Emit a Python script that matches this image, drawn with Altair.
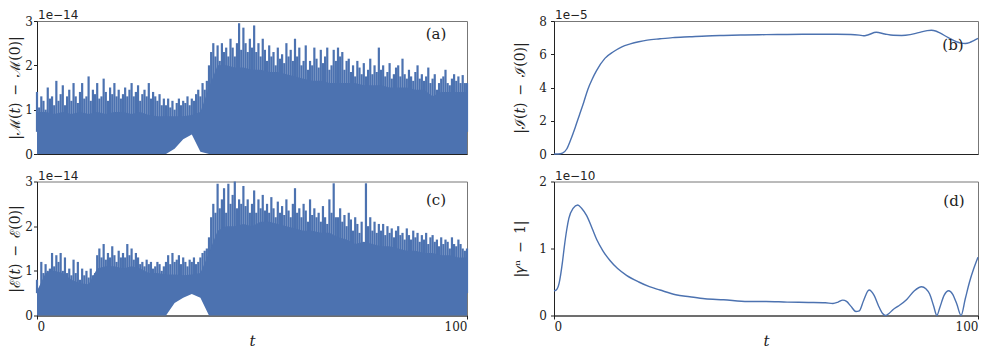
import altair as alt
import pandas as pd

COLOR = "#4c72b0"

# ---- panel (a): |M(t)-M(0)|, units of 1e-14 ----
T_BODY = list(range(0, 101, 2))
A_BODY = [0.95, 0.95, 0.9, 0.95, 0.9, 0.95, 0.9, 0.95, 0.9, 0.95,
          0.95, 0.9, 0.95, 0.88, 0.85, 0.85, 0.85, 0.85, 0.88, 0.95,
          1.5, 2.0, 2.0, 1.95, 1.95, 1.9, 1.9, 1.85, 1.85, 1.8,
          1.75, 1.7, 1.65, 1.65, 1.6, 1.6, 1.6, 1.6, 1.55, 1.55,
          1.55, 1.5, 1.5, 1.5, 1.45, 1.45, 1.3, 1.4, 1.4, 1.4, 1.4]
A_LO = [0, 0, 0, 0, 0, 0, 0, 0, 0, 0,
        0, 0, 0, 0, 0, 0, 0.12, 0.33, 0.44, 0.05,
        0, 0, 0, 0, 0, 0, 0, 0, 0, 0,
        0, 0, 0, 0, 0, 0, 0, 0, 0, 0,
        0, 0, 0, 0, 0, 0, 0, 0, 0, 0, 0]
T_HI = [i / 2 for i in range(201)]
A_HI = [1.4, 1.05, 1.3, 1.2, 1.0, 1.5, 1.25, 1.3, 1.1, 1.65, 1.2, 1.35, 1.55, 1.1, 1.3, 1.45, 1.2, 1.6, 1.3, 1.15,
        1.4, 1.6, 1.25, 1.3, 1.75, 1.2, 1.45, 1.35, 1.6, 1.25, 1.3, 1.7, 1.4, 1.2, 1.5, 1.35, 1.6, 1.3, 1.45, 1.25,
        1.35, 1.5, 1.3, 1.45, 1.6, 1.3, 1.4, 1.55, 1.2, 1.35, 1.45, 1.3, 1.6, 1.25, 1.4, 1.3, 1.2, 1.35, 1.1, 1.25,
        1.1, 1.25, 1.05, 1.2, 1.0, 1.15, 1.25, 1.1, 1.2, 1.15, 1.3, 1.1, 1.25, 1.2, 1.35, 1.45, 1.3, 1.6, 1.45, 1.65,
        2.0, 2.3, 2.5, 2.2, 2.45, 2.1, 2.5, 2.3, 2.4, 2.2, 2.6, 2.4, 2.2, 2.5, 2.95, 2.35, 2.85, 2.5, 2.3, 2.6,
        2.4, 2.9, 2.3, 2.5, 2.2, 2.6, 2.35, 2.1, 2.45, 2.2, 2.3, 2.0, 2.4, 2.15, 2.25, 2.05, 2.5, 2.2, 2.35, 2.1,
        2.6, 2.2, 2.4, 2.0, 2.1, 2.45, 1.9, 2.1, 2.0, 2.4, 2.15, 1.95, 2.35, 2.05, 2.2, 2.4, 1.9, 2.0, 2.35, 2.1,
        2.4, 2.2, 2.3, 1.9, 2.1, 2.15, 1.85, 2.0, 1.75, 2.1, 1.95, 1.8, 2.05, 1.75, 1.9, 2.15, 1.8, 2.0, 1.85, 2.4,
        1.9, 2.0, 1.75, 1.85, 2.05, 1.7, 1.8, 1.95, 2.0, 1.75, 2.15, 1.8, 1.7, 1.9, 1.75, 1.65, 1.85, 2.0, 1.7, 1.8,
        1.65, 1.75, 1.95, 1.6, 1.7, 1.8, 1.45, 1.6, 1.7, 1.75, 1.9, 1.6, 1.55, 1.7, 1.8, 1.65, 1.75, 1.6, 1.78, 1.6,
        1.6]

# ---- panel (c): |E(t)-E(0)|, units of 1e-14 ----
C_BODY = [0.55, 0.95, 1.0, 0.95, 0.8, 0.72, 0.7, 1.05, 1.1, 1.1,
          1.05, 1.1, 1.05, 0.95, 0.95, 0.92, 0.92, 0.9, 0.92, 0.95,
          1.4, 1.9, 2.0, 2.0, 2.05, 2.0, 2.1, 2.1, 2.05, 2.0,
          1.95, 1.9, 1.9, 1.85, 1.85, 1.75, 1.7, 1.6, 1.65, 1.6,
          1.55, 1.55, 1.5, 1.45, 1.45, 1.4, 1.4, 1.35, 1.35, 1.3, 1.3]
C_LO = [0, 0, 0, 0, 0, 0, 0, 0, 0, 0,
        0, 0, 0, 0, 0, 0, 0.28, 0.4, 0.48, 0.4,
        0, 0, 0, 0, 0, 0, 0, 0, 0, 0,
        0, 0, 0, 0, 0, 0, 0, 0, 0, 0,
        0, 0, 0, 0, 0, 0, 0, 0, 0, 0, 0]
C_HI = [0.8, 0.6, 1.2, 0.95, 1.15, 1.0, 1.05, 1.4, 1.1, 1.35, 1.2, 1.4, 1.0, 1.3, 0.95, 1.05, 0.9, 1.25, 0.95, 1.2,
        0.8, 1.05, 0.9, 1.0, 0.85, 1.05, 0.9, 0.95, 1.35, 1.5, 1.3, 1.6, 1.25, 1.4, 1.3, 1.55, 1.35, 1.2, 1.45, 1.3,
        1.4, 1.3, 1.6, 1.35, 1.5, 1.25, 1.4, 1.3, 1.15, 1.2, 1.1, 1.25, 1.15, 1.2, 1.05, 1.1, 1.2, 1.15, 1.0, 1.1,
        1.2, 1.35, 1.15, 1.4, 1.2, 1.25, 1.35, 1.15, 1.3, 1.2, 1.1, 1.25, 1.2, 1.3, 1.15, 1.2, 1.3, 1.4, 1.45, 1.5,
        1.75, 2.2, 2.5, 2.3, 2.95, 2.4, 2.6, 2.85, 2.3, 2.95, 2.5, 2.7, 3.0, 2.4, 2.6, 2.5, 2.9, 2.45, 2.6, 2.3,
        2.5, 2.8, 2.3, 2.6, 2.4, 2.7, 2.35, 2.5, 2.3, 2.65, 2.4, 2.2, 2.55, 2.3, 2.45, 2.25, 2.6, 2.35, 2.2, 2.5,
        2.85, 2.3, 2.4, 2.2, 2.5, 2.35, 2.1, 2.6, 2.25, 2.4, 2.2, 2.3, 2.1, 2.45, 2.2, 2.05, 2.6, 2.3, 2.96, 2.2,
        2.2, 2.4, 2.1, 2.25, 2.0, 2.3, 2.15, 1.9, 2.2, 2.05, 1.85, 2.1, 1.6, 2.96, 2.0, 2.2, 1.9, 2.1, 1.85, 2.05,
        1.9, 2.05, 1.8, 2.0, 1.85, 1.95, 1.75, 1.9, 2.0, 1.8, 1.85, 1.7, 1.95, 1.8, 1.7, 1.9, 1.75, 1.85, 1.65, 1.8,
        1.7, 1.85, 1.6, 1.75, 1.8, 1.65, 1.7, 1.55, 1.75, 1.6, 1.7, 1.65, 1.5, 1.75, 1.6, 1.55, 1.7, 1.6, 1.5, 1.45,
        1.5]

# ---- panel (b): |I(t)-I(0)|, units of 1e-5 ----
B_T = [0, 1, 2, 3, 4, 5, 6, 7, 8, 9, 10, 12, 14, 16, 18, 20, 22, 25, 28, 32, 36, 40, 45, 50, 55, 60,
       65, 70, 72, 73, 74, 76, 78, 80, 82, 84, 86, 88, 89, 90, 91, 93, 95, 96, 97, 98, 99, 100]
B_V = [0, 0.0, 0.05, 0.3, 0.9, 1.6, 2.35, 3.1, 3.9, 4.5, 5.0, 5.75, 6.15, 6.45, 6.62, 6.75, 6.85, 6.93,
       7.0, 7.05, 7.1, 7.13, 7.16, 7.18, 7.19, 7.2, 7.2, 7.19, 7.15, 7.11, 7.16, 7.32, 7.22, 7.14, 7.13,
       7.18, 7.3, 7.42, 7.44, 7.4, 7.28, 7.0, 6.75, 6.67, 6.65, 6.7, 6.82, 6.95]

# ---- panel (d): |gamma^n - 1|, units of 1e-10 ----
D_T = [0, 0.5, 1.2, 2, 2.4, 3, 3.5, 4.5, 5.6, 6.5, 7.7, 9, 10.1, 11.5, 13.2, 15, 17.1, 20, 22.5, 25,
       28.7, 32, 35.6, 40, 45.7, 50, 55, 60, 64, 65.8, 67, 68.1, 69, 70, 71.2, 72, 73, 74.3, 75.5, 76.5,
       77.5, 78.2, 79, 80, 81.2, 83.2, 85, 86.7, 87.7, 88.6, 89.5, 90.3, 91, 92, 93.1, 94, 95, 96, 97, 98,
       99, 100]
D_V = [0.37, 0.38, 0.48, 0.8, 1.01, 1.28, 1.45, 1.6, 1.65, 1.6, 1.49, 1.3, 1.13, 0.97, 0.82, 0.7, 0.6,
       0.5, 0.43, 0.38, 0.31, 0.28, 0.25, 0.235, 0.21, 0.21, 0.2, 0.195, 0.19, 0.18, 0.2, 0.23, 0.21,
       0.14, 0.06, 0.07, 0.22, 0.38, 0.3, 0.15, 0.03, 0.0, 0.03, 0.09, 0.14, 0.24, 0.37, 0.43, 0.4, 0.32,
       0.15, 0.0, 0.12, 0.3, 0.37, 0.32, 0.17, 0.0, 0.25, 0.5, 0.7, 0.87]

W_LEFT = 430
W_RIGHT = 424
H_TOP = 133
H_BOT = 134
SERIF = "DejaVu Serif"
INK = "#222222"
EN = "\u2002"
one = pd.DataFrame({"k": [0]})


def x_enc(bottom):
    if bottom:
        ax = alt.Axis(values=[0, 100], title="t", titleFontStyle="italic", titleFontSize=15,
                      titleFontWeight="normal", labelPadding=2, titlePadding=1, tickSize=3.5,
                      labelOverlap=False)
    else:
        ax = alt.Axis(values=[0, 100], labels=False, ticks=False, title=None)
    return alt.X("t:Q", scale=alt.Scale(domain=[0, 100], nice=False, zero=False), axis=ax)


def y_axis(ticks, title, tpad, lpad):
    return alt.Axis(values=ticks, format="~g", title=title, titlePadding=tpad,
                    labelPadding=lpad, tickSize=3.5, labelOverlap=False)


def decorations(offset_text, label, label_x, label_y):
    off = alt.Chart(one).mark_text(text=offset_text, font="DejaVu Sans", fontSize=12, color=INK,
                                   align="left", baseline="alphabetic").encode(
        x=alt.value(1), y=alt.value(-2))
    lab = alt.Chart(one).mark_text(text=label, font=SERIF, fontSize=15, color=INK,
                                   align="center", baseline="middle").encode(
        x=alt.value(label_x), y=alt.value(label_y))
    return off, lab


def noisy_panel(body, lo, hi, ytitle, label, label_y, bottom, h):
    dfb = pd.DataFrame({"t": T_BODY, "lo": lo, "body": body})
    dfh = pd.DataFrame({"t": T_HI, "hi": hi})
    spikes = alt.Chart(dfh).mark_rule(color=COLOR, strokeWidth=2.2).encode(
        x=x_enc(bottom),
        y=alt.Y("hi:Q", scale=alt.Scale(domain=[0, 3], nice=False),
                axis=y_axis([0, 1, 2, 3], ytitle, 2, 1)),
        y2=alt.datum(0.5))
    area = alt.Chart(dfb).mark_area(color=COLOR, opacity=1).encode(
        x="t:Q", y="lo:Q", y2="body:Q")
    off, lab = decorations("1e\u221214", label, 399, label_y)
    return alt.layer(spikes, area, off, lab).properties(width=W_LEFT, height=h)


def smooth_panel(ts, vs, top, ticks, ytitle, offset_text, label, label_x, label_y, bottom, h):
    df = pd.DataFrame({"t": ts, "v": vs})
    line = alt.Chart(df).mark_line(color=COLOR, strokeWidth=1.4, interpolate="monotone").encode(
        x=x_enc(bottom),
        y=alt.Y("v:Q", scale=alt.Scale(domain=[0, top], nice=False),
                axis=y_axis(ticks, ytitle, 11, 4)))
    off, lab = decorations(offset_text, label, label_x, label_y)
    return alt.layer(line, off, lab).properties(width=W_RIGHT, height=h)


TITLE_A = "|\u2133(\U0001D461)" + EN + "\u2212" + EN + "\u2133(0)|"
TITLE_C = "|\u2130(\U0001D461)" + EN + "\u2212" + EN + "\u2130(0)|"
TITLE_B = "|\u2110(\U0001D461)" + EN + "\u2212" + EN + "\u2110(0)|"
TITLE_D = "|\U0001D6FE\u207F" + EN + "\u2212" + EN + "1|"

pa = noisy_panel(A_BODY, A_LO, A_HI, TITLE_A, "(a)", 12.5, False, H_TOP)
pc = noisy_panel(C_BODY, C_LO, C_HI, TITLE_C, "(c)", 18.5, True, H_BOT)
pb = smooth_panel(B_T, B_V, 8, [0, 2, 4, 6, 8], TITLE_B, "1e\u22125", "(b)", 399, 24, False, H_TOP)
pd_ = smooth_panel(D_T, D_V, 2, [0, 1, 2], TITLE_D, "1e\u221210", "(d)", 400, 19.5, True, H_BOT)

chart = alt.concat(pa, pb, pc, pd_, columns=2, spacing={"row": 27.5, "column": 87}).properties(
    bounds="flush", padding={"left": 0, "top": 0, "right": 0, "bottom": 0}
).configure_axis(
    labelFont=SERIF, labelFontSize=12, labelColor=INK, tickColor=INK, domainColor=INK,
    titleFont=SERIF, titleFontSize=14, titleFontWeight="normal", titleColor=INK, grid=False,
    domainWidth=1, tickWidth=1
).configure_view(stroke="#777777", strokeWidth=1)

chart.save("out.html", embed_options={"renderer": "svg", "actions": False})
